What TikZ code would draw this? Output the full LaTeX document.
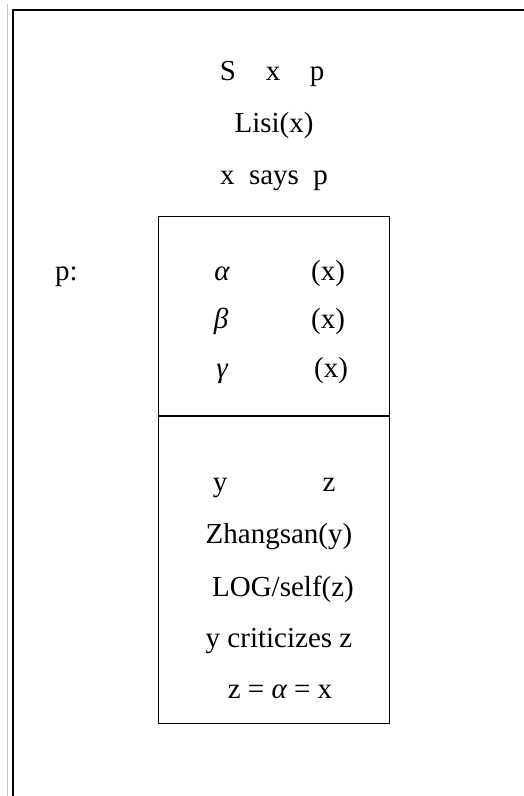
\documentclass[tikz,border=0pt]{standalone}
\usepackage{fontspec}
\setmainfont{Liberation Serif}
\newfontfamily\tnr{Liberation Serif}
\begin{document}
\begin{tikzpicture}[x=1pt,y=-1pt,
  txt/.style={inner sep=0pt, anchor=base, font=\tnr\fontsize{29}{34}\selectfont},
  frame/.style={line width=2.2pt, black},
  box/.style={line width=1.5pt, black}]
\useasboundingbox (0,0) rectangle (524,796);
% outer frame (cropped) and grey rule
\draw[line width=1pt, color={rgb,255:red,200;green,200;blue,200}] (7.5,4) -- (7.5,796);
\coordinate (tl) at (12.7,9.7);
\coordinate (tr) at (530,9.7);
\coordinate (bl) at (12.7,800);
\draw[frame] (tr) -- (tl) -- (bl);
% header
\node[txt] (S) at (228,80) {S};
\node[txt] (x0) at (273,80) {x};
\node[txt] (p0) at (317,80) {p};
\node[txt] (lisi) at (274,132) {Lisi(x)};
\node[txt] (says) at (274,184) {x\ \ says\ \ p};
% box
\coordinate (b1) at (158.5,216.5);
\coordinate (b2) at (389.5,723.5);
\draw[box] (b1) rectangle (b2);
\coordinate (dl) at (158.5,416);
\coordinate (dr) at (389.5,416);
\draw[box] (dl) -- (dr);
% upper part
\node[txt, anchor=base west] (plab) at (55,280) {p:};
\node[txt] (al) at (222,280) {\itshape α};
\node[txt] (ax) at (328,280) {(x)};
\node[txt] (be) at (221,328) {\itshape β};
\node[txt] (bx) at (328,328) {(x)};
\node[txt] (ga) at (222,377) {\itshape γ};
\node[txt] (gx) at (331,377) {(x)};
% lower part
\node[txt] (y1) at (220,491) {y};
\node[txt] (z1) at (329,491) {z};
\node[txt] (zh) at (279,543) {Zhangsan(y)};
\node[txt] (log) at (283,596) {LOG/self(z)};
\node[txt] (crit) at (279,647) {y criticizes z};
\node[txt] (eq) at (280,698) {z = {\itshape α} = x};
\end{tikzpicture}
\end{document}
